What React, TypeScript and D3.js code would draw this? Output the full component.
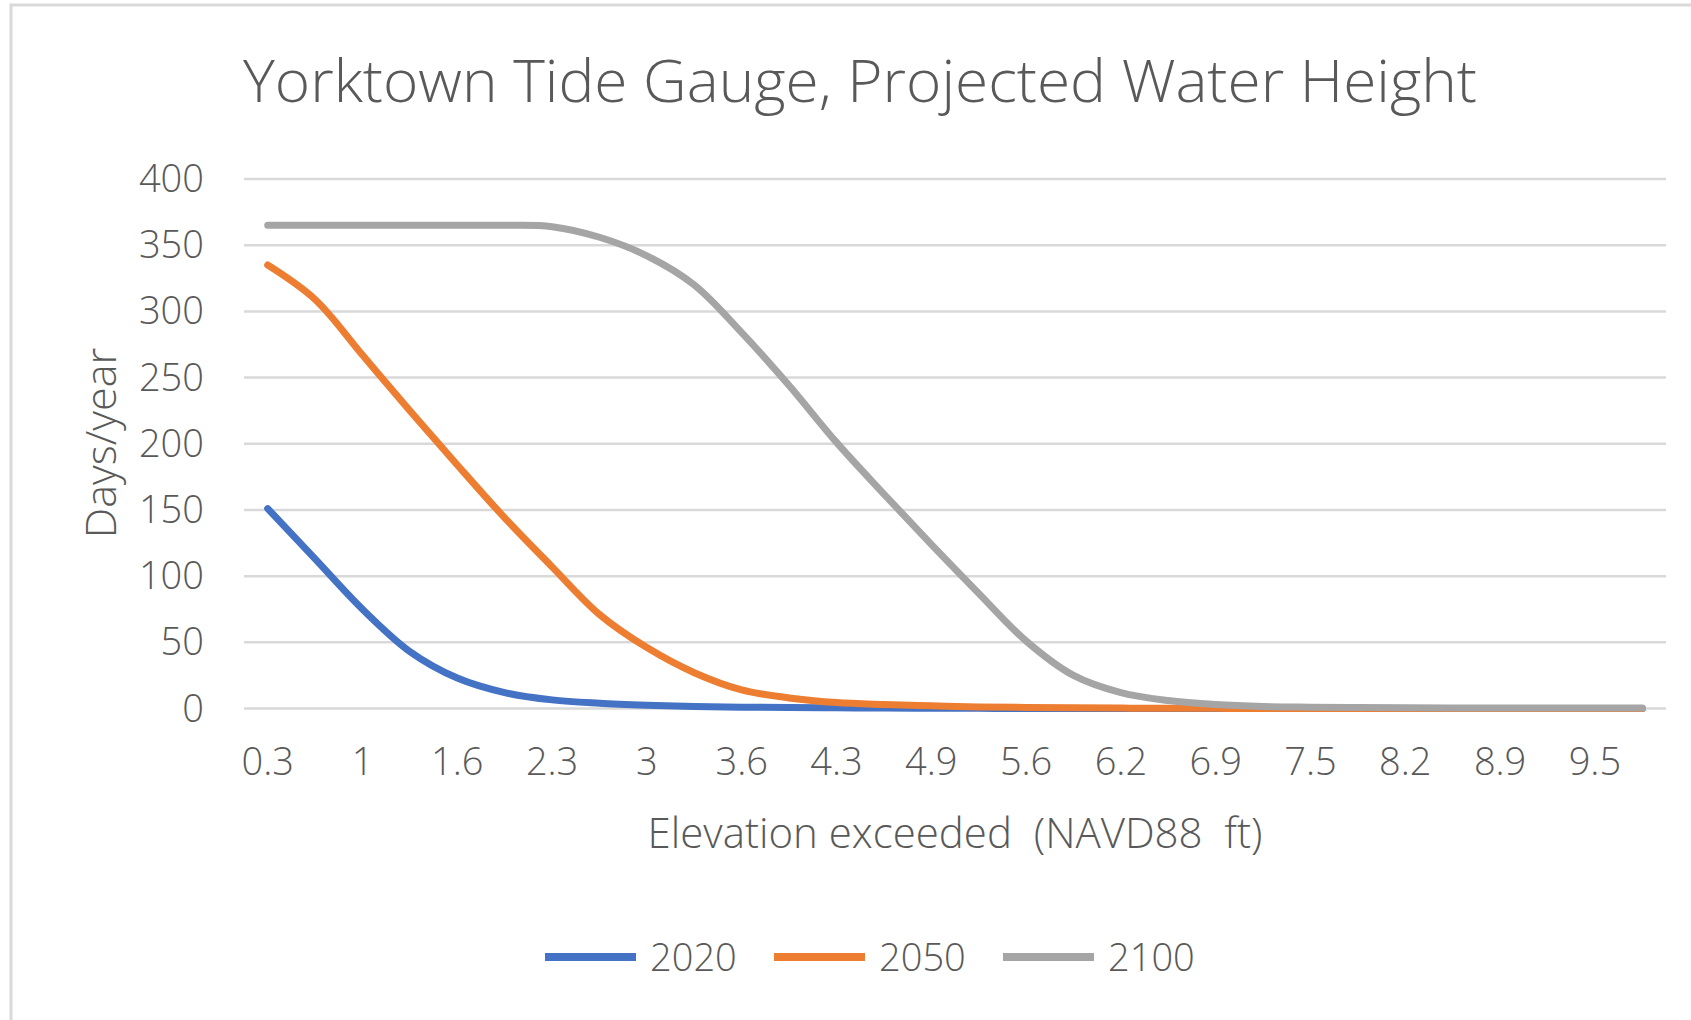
import React from "react";
import * as d3 from "d3";

const categories = [
  "0.3", "0.7", "1", "1.3", "1.6", "2", "2.3", "2.6", "3", "3.3",
  "3.6", "3.9", "4.3", "4.6", "4.9", "5.2", "5.6", "5.9", "6.2", "6.6",
  "6.9", "7.2", "7.5", "7.9", "8.2", "8.5", "8.9", "9.2", "9.5", "9.8",
];

const values2020 = [
  151, 113, 75, 43, 23, 12, 6.5, 4, 2.5, 1.5,
  1, 0.7, 0.5, 0.3, 0.2, 0.1, 0, 0, 0, 0,
  0, 0, 0, 0, 0, 0, 0, 0, 0, 0,
];

const values2050 = [
  335, 309, 267, 225, 184, 144, 107, 71, 46, 27,
  14, 8, 4.5, 3, 2, 1.2, 0.8, 0.5, 0.3, 0.2,
  0.1, 0, 0, 0, 0, 0, 0, 0, 0, 0,
];

const values2100 = [
  365, 365, 365, 365, 365, 365, 364, 356, 342, 320,
  284, 244, 201, 162, 124, 87, 51, 25, 12, 6,
  3, 1.5, 1, 0.7, 0.5, 0.4, 0.3, 0.3, 0.3, 0.3,
];

const seriesNames = ["2020", "2050", "2100"];
const seriesColors = ["#4472C4", "#ED7D31", "#A5A5A5"];
const yTicks = [0, 50, 100, 150, 200, 250, 300, 350, 400];

const titleText = "Yorktown Tide Gauge, Projected Water Height";
const yTitle = "Days/year";
const xTitle = "Elevation exceeded  (NAVD88  ft)";

const TEXT = "#595959";
const FONT = "'Open Sans', 'DejaVu Sans', sans-serif";

export default function App() {
  const series = [values2020, values2050, values2100];
  const x = d3.scalePoint<string>().domain(categories).range([244, 1666]).padding(0.5);
  const y = d3.scaleLinear().domain([0, 400]).range([708.5, 179]);
  const line = d3
    .line<number>()
    .x((_, i) => x(categories[i]) as number)
    .y((d) => y(d))
    .curve(d3.curveCatmullRom.alpha(0.5));

  return (
    <svg
      width={1691}
      height={1020}
      style={{ position: "absolute", left: 0, top: 0, display: "block", background: "#fff" }}
      fontFamily={FONT}
      fontWeight={300}
    >
      <rect x={0} y={0} width={1691} height={1020} fill="#ffffff" />
      <path d="M 11 1020 V 5 H 1691" fill="none" stroke="#d9d9d9" strokeWidth={3} />

      <text
        x={860}
        y={102}
        textAnchor="middle"
        fontSize={58}
        fill={TEXT}
        textLength={1234}
        lengthAdjust="spacingAndGlyphs"
      >
        {titleText}
      </text>

      {yTicks.map((t) => (
        <g key={t}>
          <line x1={244} x2={1666} y1={y(t)} y2={y(t)} stroke="#d9d9d9" strokeWidth={2.5} />
          <text x={204} y={y(t) + 13} textAnchor="end" fontSize={38} fill={TEXT}>
            {t}
          </text>
        </g>
      ))}

      {categories.map((c, i) =>
        i % 2 === 0 ? (
          <text key={c} x={x(c)} y={775} textAnchor="middle" fontSize={38} fill={TEXT}>
            {c}
          </text>
        ) : null
      )}

      <text
        transform="translate(116,443) rotate(-90)"
        textAnchor="middle"
        fontSize={43}
        fill={TEXT}
      >
        {yTitle}
      </text>
      <text x={955} y={848} textAnchor="middle" fontSize={42} fill={TEXT} style={{ whiteSpace: "pre" }}>
        {xTitle}
      </text>

      {series.map((vals, k) => (
        <path
          key={seriesNames[k]}
          d={line(vals) || ""}
          fill="none"
          stroke={seriesColors[k]}
          strokeWidth={7}
          strokeLinejoin="round"
          strokeLinecap="round"
        />
      ))}

      {seriesNames.map((name, k) => {
        const x0 = 545 + k * 229;
        return (
          <g key={name}>
            <line x1={x0} x2={x0 + 91} y1={957} y2={957} stroke={seriesColors[k]} strokeWidth={8} />
            <text x={x0 + 105} y={971} fontSize={38} fill={TEXT}>
              {name}
            </text>
          </g>
        );
      })}
    </svg>
  );
}
